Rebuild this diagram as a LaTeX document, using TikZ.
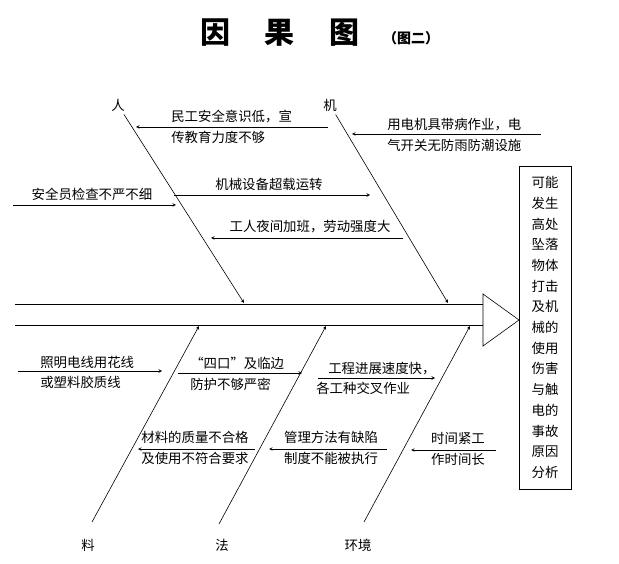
\documentclass[tikz,border=0pt]{standalone}
\usepackage{fontspec}
\setmainfont{Noto Sans CJK SC}
\usepackage{tikz}
\usetikzlibrary{arrows, positioning}

\tikzset{
	title/.style={inner sep=0pt, font=\fontsize{30}{30}\selectfont\bfseries},
	subtitle/.style={inner sep=0pt, font=\fontsize{14}{14}\selectfont\bfseries},
	bonename/.style={inner sep=3pt, font=\fontsize{13.4}{16}\selectfont},
	cause/.style={inner sep=0pt, align=left, font=\fontsize{13.4}{20.5}\selectfont},
	bone/.style={->, line width=0.6pt},
	branch/.style={->, line width=0.6pt}
}

\begin{document}
\begin{tikzpicture}[x=1pt, y=-1pt, >=stealth, line width=0.6pt]
	\useasboundingbox (0,0) rectangle (619,564);

	% title
	\node [title] (yin) at (215,33) {因};
	\node [title] (guo) at (279,33) {果};
	\node [title] (tu) at (344,33) {图};
	\node [subtitle] (tuer) at (411,38) {（图二）};

	% head
	\node [draw, inner sep=0pt, minimum width=52pt, minimum height=323pt, align=center,
		font=\fontsize{13.4}{20.7}\selectfont] (effect) at (545,327.5)
		{可能\\发生\\高处\\坠落\\物体\\打击\\及机\\械的\\使用\\伤害\\与触\\电的\\事故\\原因\\分析};
	\coordinate (head) at (519,320);
	\coordinate (headT) at (483,294);
	\coordinate (headB) at (483,346);
	\draw (headT) -- (head) -- (headB) -- cycle;

	% spine
	\coordinate (tailT) at (15,304);
	\coordinate (tailB) at (15,325);
	\draw (tailT) -- (tailT -| headT);
	\draw (tailB) -- (tailB -| headB);

	% bones
	\node [bonename] (ren) at (118,105) {人};
	\node [bonename] (ji) at (330,105) {机};
	\node [bonename] (liao) at (88,545) {料};
	\node [bonename] (fa) at (222,545) {法};
	\node [bonename] (huanjing) at (358,545) {环境};

	\coordinate (renTip) at (244,303);
	\coordinate (jiTip) at (448,303);
	\coordinate (liaoEnd) at (92,522);
	\coordinate (liaoTip) at (199,326);
	\coordinate (faEnd) at (219,524);
	\coordinate (faTip) at (326,326);
	\coordinate (hjEnd) at (364,522);
	\coordinate (hjTip) at (470,326);

	\draw [bone] (ren) -- (renTip);
	\draw [bone] (ji) -- (jiTip);
	\draw [bone] (liaoEnd) -- (liaoTip);
	\draw [bone] (faEnd) -- (faTip);
	\draw [bone] (hjEnd) -- (hjTip);

	% causes above the spine
	\coordinate (a1) at (328,127);	\coordinate (a1Tip) at (136,127);
	\coordinate (a2) at (541,134);	\coordinate (a2Tip) at (352,134);
	\coordinate (a3) at (174,195);	\coordinate (a3Tip) at (370,195);
	\coordinate (a4) at (13,205);	\coordinate (a4Tip) at (176,205);
	\coordinate (a5) at (403,238);	\coordinate (a5Tip) at (211,238);

	\draw [branch] (a1) -- (a1Tip);
	\draw [branch] (a2) -- (a2Tip);
	\draw [branch] (a3) -- (a3Tip);
	\draw [branch] (a4) -- (a4Tip);
	\draw [branch] (a5) -- (a5Tip);

	\node [cause, anchor=west] (c1) at (171,127) {民工安全意识低，宣\\传教育力度不够};
	\node [cause, anchor=west] (c2) at (387,135) {用电机具带病作业，电\\气开关无防雨防潮设施};
	\node [cause] (c3) at (269,184) {机械设备超载运转};
	\node [cause] (c4) at (92,194) {安全员检查不严不细};
	\node [cause] (c5) at (310,227) {工人夜间加班，劳动强度大};

	% causes below the spine
	\coordinate (b1) at (18,371);	\coordinate (b1Tip) at (162,371);
	\coordinate (b2) at (178,373);	\coordinate (b2Tip) at (302,373);
	\coordinate (b3) at (318,378);	\coordinate (b3Tip) at (435,378);
	\coordinate (b4) at (255,449);	\coordinate (b4Tip) at (138,449);
	\coordinate (b5) at (387,449);	\coordinate (b5Tip) at (269,449);
	\coordinate (b6) at (496,450);	\coordinate (b6Tip) at (411,450);

	\draw [branch] (b1) -- (b1Tip);
	\draw [branch] (b2) -- (b2Tip);
	\draw [branch] (b3) -- (b3Tip);
	\draw [branch] (b4) -- (b4Tip);
	\draw [branch] (b5) -- (b5Tip);
	\draw [branch] (b6) -- (b6Tip);

	\node [cause, anchor=west] (d1) at (40,372.5) {照明电线用花线\\或塑料胶质线};
	\node [cause, anchor=west] (d2) at (190,374) {“四口”及临边\\防护不够严密};
	\node [cause, anchor=west] (d3) at (316,378.5) {\hspace*{12pt}工程进展速度快，\\各工种交叉作业};
	\node [cause] (d4) at (195,448) {材料的质量不合格\\及使用不符合要求};
	\node [cause] (d5) at (331,448) {管理方法有缺陷\\制度不能被执行};
	\node [cause] (d6) at (458,449) {时间紧工\\作时间长};

\end{tikzpicture}
\end{document}
